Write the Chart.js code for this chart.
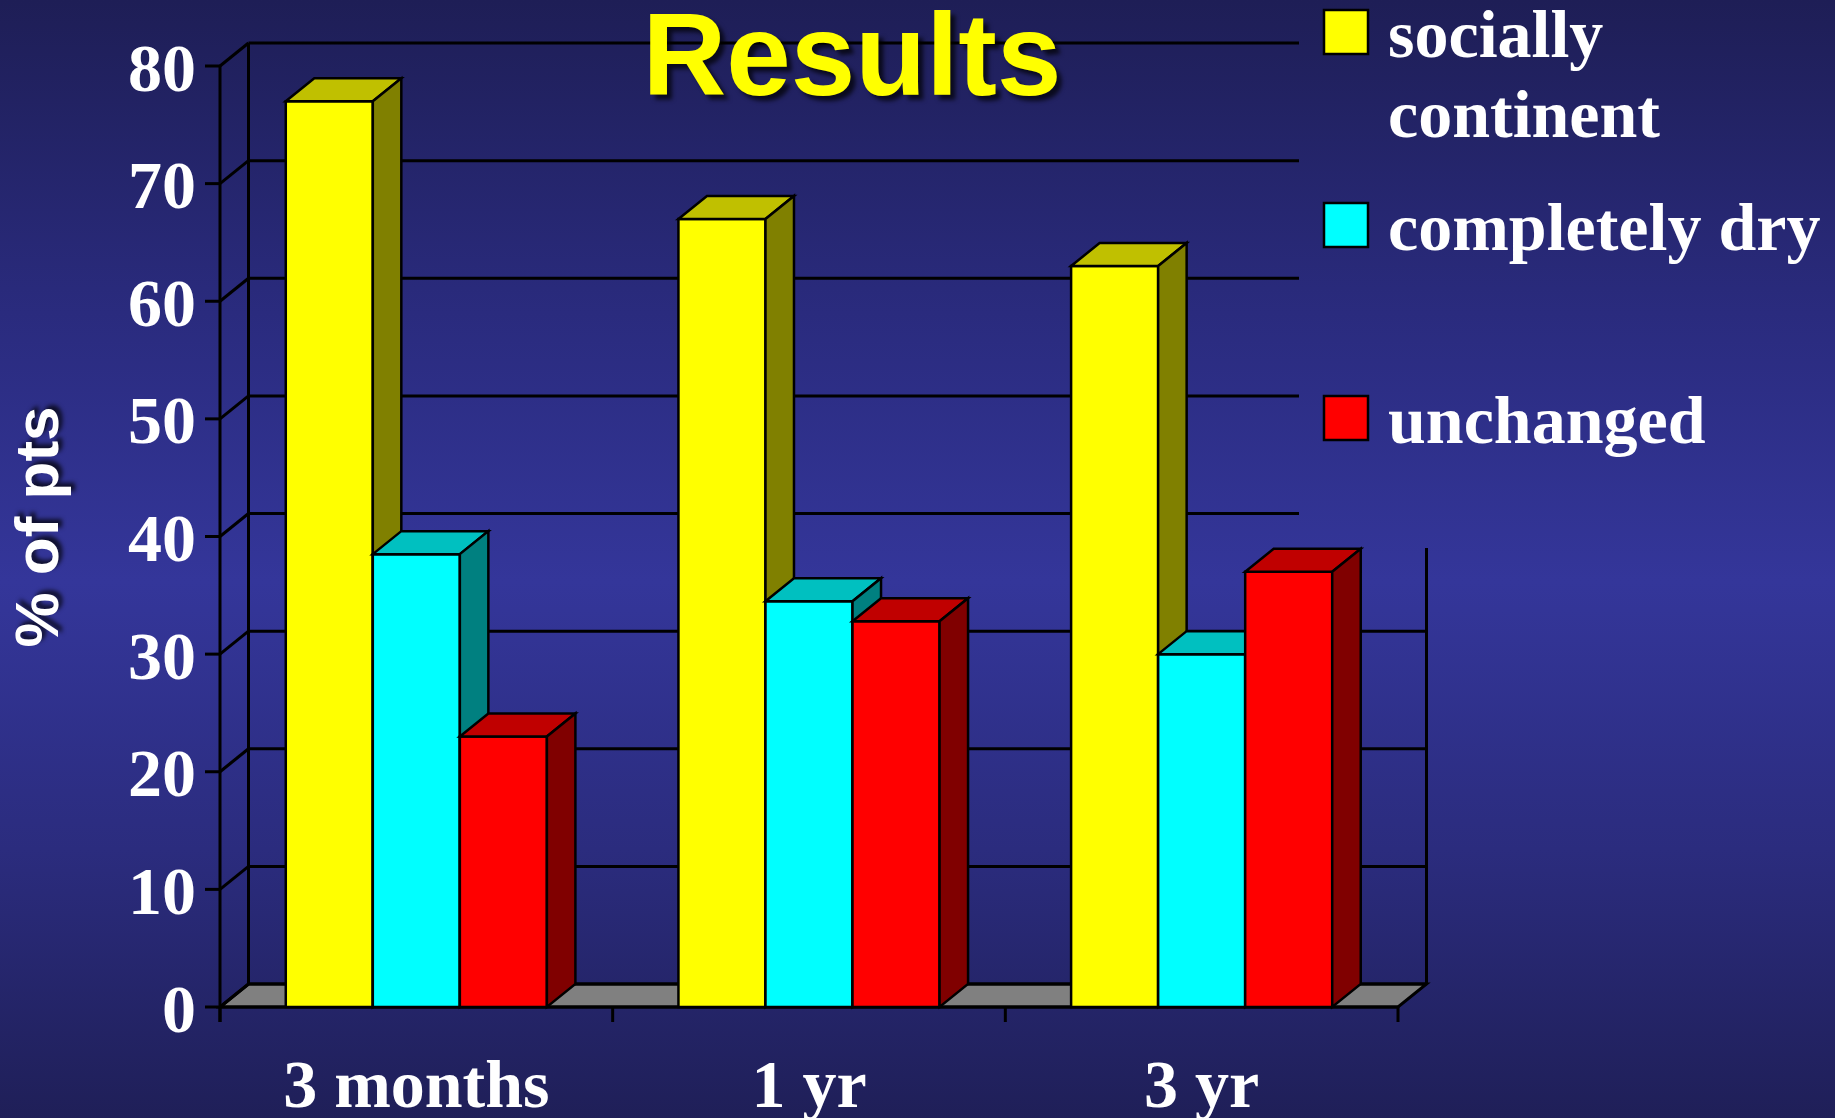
<!DOCTYPE html>
<html>
<head>
<meta charset="utf-8">
<title>Results</title>
<script src="https://cdn.jsdelivr.net/npm/chart.js@4.4.1/dist/chart.umd.min.js"></script>
<style>
  html, body { margin: 0; padding: 0; }
  body {
    width: 1835px;
    height: 1118px;
    overflow: hidden;
    background: linear-gradient(to bottom, #1e1e56 0%, #2a2b7e 28%, #34369a 52%, #2b2c7e 76%, #1f1f58 100%);
  }
  #wrap { position: relative; width: 1835px; height: 1118px; }
</style>
</head>
<body>
<div id="wrap"><canvas id="chart"></canvas></div>
<script>
// ---- data ----
const chartTitle = 'Results';
const axisTitle = '% of pts';
const categories = ['3 months', '1 yr', '3 yr'];
const seriesNames = ['socially continent', 'completely dry', 'unchanged'];
const sociallyContinent = [77, 67, 63];
const completelyDry = [38.5, 34.5, 30];
const unchanged = [23, 32.8, 37];
const yTicks = [0, 10, 20, 30, 40, 50, 60, 70, 80];

// ---- look ----
const frontColors = ['#ffff00', '#00ffff', '#ff0000'];
const topColors = ['#c0c000', '#00c0c0', '#c00000'];
const sideColors = ['#808000', '#008080', '#800000'];
const DX = 28.5, DY = 23;              // 3D depth offset
const LEGEND_LEFT = 1299, LEGEND_BOTTOM = 548;
const serif = '"Liberation Serif", "Times New Roman", serif';
const sans = '"Liberation Sans", Arial, sans-serif';

function poly(ctx, pts, fill) {
    ctx.beginPath();
    ctx.moveTo(pts[0][0], pts[0][1]);
    for (let i = 1; i < pts.length; i++) ctx.lineTo(pts[i][0], pts[i][1]);
    ctx.closePath();
    if (fill) { ctx.fillStyle = fill; ctx.fill(); }
    ctx.stroke();
}

function line(ctx, x1, y1, x2, y2) {
    ctx.beginPath();
    ctx.moveTo(x1, y1);
    ctx.lineTo(x2, y2);
    ctx.stroke();
}

// --- back wall, floor, axes and 3D bars ---
const box3d = {
    id: 'box3d',
    beforeDatasetsDraw(chart) {
        const ctx = chart.ctx;
        const { left, right } = chart.chartArea;
        const ys = chart.scales.y;
        const y0 = ys.getPixelForValue(0);
        const yTop = ys.getPixelForValue(yTicks[yTicks.length - 1]);

        ctx.save();
        ctx.strokeStyle = '#000';
        ctx.lineWidth = 3;
        ctx.lineJoin = 'miter';

        // floor
        poly(ctx, [[left, y0], [right, y0], [right + DX, y0 - DY], [left + DX, y0 - DY]], '#808080');

        // gridlines on the back wall + diagonals + tick marks
        yTicks.forEach(v => {
            const py = ys.getPixelForValue(v);
            const by = py - DY;
            const endX = by < LEGEND_BOTTOM ? LEGEND_LEFT : right + DX;
            line(ctx, left + DX, by, endX, by);
            line(ctx, left, py, left + DX, by);
            line(ctx, left - 15, py, left, py);
        });

        // back wall edges
        line(ctx, left + DX, y0 - DY, left + DX, yTop - DY);
        line(ctx, right + DX, LEGEND_BOTTOM, right + DX, y0 - DY);

        // front axes
        line(ctx, left, yTop, left, y0 + 15);
        line(ctx, left, y0, right, y0);
        const cw = (right - left) / categories.length;
        for (let k = 0; k <= categories.length; k++) {
            line(ctx, left + k * cw, y0, left + k * cw, y0 + 15);
        }

        // bars, left to right so each front hides the previous side face
        ctx.lineWidth = 2.5;
        const n = chart.data.datasets.length;
        for (let i = 0; i < categories.length; i++) {
            for (let d = 0; d < n; d++) {
                const el = chart.getDatasetMeta(d).data[i];
                const l = el.x - el.width / 2, r = el.x + el.width / 2;
                const t = el.y, b = el.base;
                poly(ctx, [[l, t], [r, t], [r, b], [l, b]], frontColors[d]);
                poly(ctx, [[l, t], [l + DX, t - DY], [r + DX, t - DY], [r, t]], topColors[d]);
                poly(ctx, [[r, t], [r + DX, t - DY], [r + DX, b - DY], [r, b]], sideColors[d]);
            }
        }
        ctx.restore();
        return false; // default flat bars are replaced by the boxes above
    }
};

// --- title, axis title and legend ---
const decorations = {
    id: 'decorations',
    afterDraw(chart) {
        const ctx = chart.ctx;
        ctx.save();

        // title
        ctx.font = `bold 116px ${sans}`;
        ctx.fillStyle = '#ffff00';
        ctx.textAlign = 'center';
        ctx.textBaseline = 'alphabetic';
        ctx.shadowColor = 'rgba(0,0,0,0.7)';
        ctx.shadowOffsetX = 5;
        ctx.shadowOffsetY = 5;
        ctx.shadowBlur = 4;
        ctx.fillText(chartTitle, 852, 95);

        // y axis title
        ctx.save();
        ctx.translate(41, 527);
        ctx.rotate(-Math.PI / 2);
        ctx.font = `bold 62px ${sans}`;
        ctx.fillStyle = '#ffffff';
        ctx.textBaseline = 'middle';
        ctx.shadowOffsetX = 4;
        ctx.shadowOffsetY = -4;
        ctx.fillText(axisTitle, 0, 0);
        ctx.restore();

        // legend
        ctx.shadowColor = 'transparent';
        ctx.textAlign = 'left';
        ctx.textBaseline = 'alphabetic';
        ctx.font = `bold 68px ${serif}`;
        ctx.strokeStyle = '#000';
        ctx.lineWidth = 2.5;
        const maxW = 1835 - 1388 - 6;
        chart.data.datasets.forEach((ds, d) => {
            const top = 10 + d * 193;
            ctx.fillStyle = frontColors[d];
            ctx.fillRect(1324, top, 44, 44);
            ctx.strokeRect(1324, top, 44, 44);

            const words = ds.label.split(' ');
            const lines = [];
            let cur = '';
            words.forEach(w => {
                const test = cur ? cur + ' ' + w : w;
                if (cur && ctx.measureText(test).width > maxW) { lines.push(cur); cur = w; }
                else cur = test;
            });
            lines.push(cur);
            ctx.fillStyle = '#ffffff';
            lines.forEach((ln, j) => ctx.fillText(ln, 1388, top + 47 + j * 80));
        });
        ctx.restore();
    }
};

const ctx = document.getElementById('chart').getContext('2d');
new Chart(ctx, {
    type: 'bar',
    data: {
        labels: categories,
        datasets: [
            { label: seriesNames[0], data: sociallyContinent, backgroundColor: frontColors[0] },
            { label: seriesNames[1], data: completelyDry, backgroundColor: frontColors[1] },
            { label: seriesNames[2], data: unchanged, backgroundColor: frontColors[2] }
        ]
    },
    options: {
        responsive: true,
        maintainAspectRatio: false,
        animation: false,
        events: [],
        datasets: { bar: { categoryPercentage: 0.665, barPercentage: 1.0 } },
        layout: { padding: { top: 66, right: 437, left: 0, bottom: 0 } },
        plugins: {
            legend: { display: false },
            title: { display: false },
            tooltip: { enabled: false }
        },
        scales: {
            x: {
                grid: { display: false, drawTicks: false },
                border: { display: false },
                ticks: {
                    color: '#ffffff',
                    font: { family: serif, size: 68, weight: 'bold' },
                    padding: 42,
                    maxRotation: 0,
                    autoSkip: false
                },
                afterFit(scale) { scale.height = 111; }
            },
            y: {
                min: yTicks[0],
                max: yTicks[yTicks.length - 1],
                afterBuildTicks(scale) { scale.ticks = yTicks.map(v => ({ value: v })); },
                grid: { display: false, drawTicks: false },
                border: { display: false },
                ticks: {
                    color: '#ffffff',
                    font: { family: serif, size: 68, weight: 'bold' },
                    padding: 24,
                    labelOffset: 7
                },
                afterFit(scale) { scale.width = 220; }
            }
        }
    },
    plugins: [box3d, decorations]
});
</script>
</body>
</html>
